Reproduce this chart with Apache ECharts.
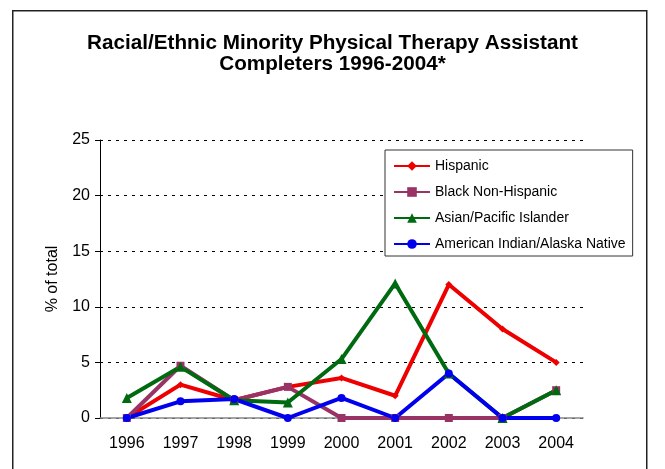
<!DOCTYPE html>
<html>
<head>
<meta charset="utf-8">
<script src="https://cdn.jsdelivr.net/npm/echarts@6/dist/echarts.min.js"></script>
<style>
html,body{margin:0;padding:0;background:#fff;}
#chart{width:665px;height:469px;}
</style>
</head>
<body>
<div id="chart"></div>
<script>
const years = ['1996','1997','1998','1999','2000','2001','2002','2003','2004'];
const hispanic = [0, 3.0, 1.6, 2.8, 3.6, 2.0, 12.0, 8.0, 5.0];
const blackNonHispanic = [0, 4.7, 1.6, 2.8, 0, 0, 0, 0, 2.5];
const asianPacific = [1.8, 4.6, 1.6, 1.4, 5.3, 12.1, 4.0, 0, 2.5];
const americanIndian = [0, 1.5, 1.7, 0, 1.8, 0, 4.0, 0, 0];
const seriesNames = ['Hispanic', 'Black Non-Hispanic', 'Asian/Pacific Islander', 'American Indian/Alaska Native'];
const yTicks = [0, 5, 10, 15, 20, 25];

const font = 'Liberation Sans, Arial, sans-serif';
const chart = echarts.init(document.getElementById('chart'), null, {renderer: 'canvas'});

function mk(name, data, color, symbol, size) {
  return {
    name: name, type: 'line', data: data,
    symbol: symbol, symbolSize: size,
    lineStyle: {color: color, width: 4},
    itemStyle: {color: color},
    emphasis: {disabled: true},
    animation: false
  };
}

chart.setOption({
  backgroundColor: '#fff',
  animation: false,
  graphic: [{
    type: 'rect', left: 12, top: 10, z: -1,
    shape: {width: 634, height: 520},
    style: {fill: '#fff', stroke: '#222', lineWidth: 1.5}
  }],
  title: {
    text: 'Racial/Ethnic Minority Physical Therapy Assistant\nCompleters 1996-2004*',
    left: 'center', top: 28,
    textStyle: {fontFamily: font, fontSize: 20.7, fontWeight: 'bold', color: '#000', lineHeight: 21}
  },
  legend: {
    orient: 'vertical', left: 385, top: 150,
    padding: [9, 7, 5, 8],
    itemWidth: 36, itemHeight: 12, itemGap: 12,
    borderColor: '#333', borderWidth: 1, backgroundColor: '#fff',
    textStyle: {fontFamily: font, fontSize: 14, color: '#000'},
    data: seriesNames
  },
  grid: {left: 100, right: 82, top: 140, bottom: 51, containLabel: false},
  xAxis: {
    type: 'category', data: years, boundaryGap: true,
    axisLine: {lineStyle: {color: '#888', width: 1.5}},
    axisTick: {show: false},
    axisLabel: {fontFamily: font, fontSize: 16, color: '#000', margin: 18}
  },
  yAxis: {
    type: 'value', min: yTicks[0], max: yTicks[yTicks.length-1], interval: 5,
    name: '% of total', nameLocation: 'middle', nameGap: 39,
    nameTextStyle: {fontFamily: font, fontSize: 16, color: '#000'},
    axisLine: {show: true, lineStyle: {color: '#000', width: 1}},
    axisTick: {show: true, inside: false, length: 5, lineStyle: {color: '#000'}},
    axisLabel: {fontFamily: font, fontSize: 16, color: '#000', margin: 10},
    splitLine: {show: true, lineStyle: {color: '#000', type: [3, 5], width: 1}}
  },
  series: [
    mk(seriesNames[0], hispanic, '#ee0000', 'diamond', 7),
    mk(seriesNames[1], blackNonHispanic, '#993366', 'rect', 8),
    mk(seriesNames[2], asianPacific, '#006a10', 'triangle', 10),
    mk(seriesNames[3], americanIndian, '#0000ee', 'circle', 8)
  ]
});
</script>
</body>
</html>
